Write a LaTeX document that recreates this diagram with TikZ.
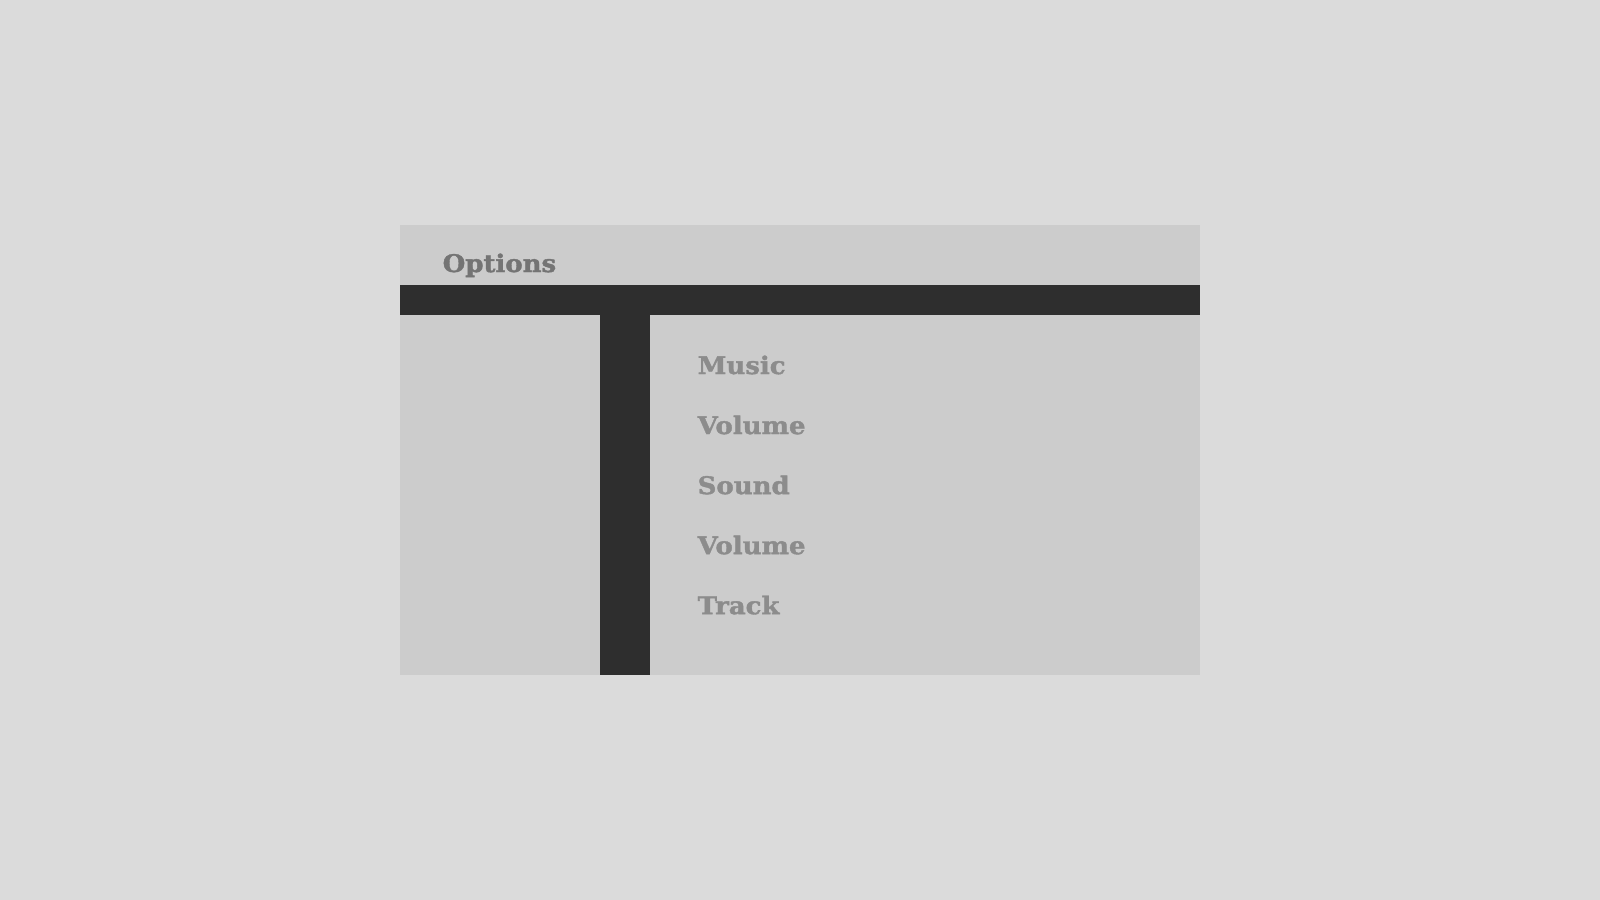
\documentclass[tikz,border=0pt]{standalone}
\usepackage{fontspec}
\setmainfont{DejaVu Serif}[BoldFeatures={FakeBold=1.6,FakeStretch=1.07}]
\usetikzlibrary{positioning}
\definecolor{bggray}{HTML}{DBDBDB}
\definecolor{panelgray}{HTML}{CCCCCC}
\definecolor{bargray}{HTML}{2E2E2E}
\definecolor{titlegray}{HTML}{747474}
\definecolor{itemgray}{HTML}{8C8C8C}
\begin{document}
\begin{tikzpicture}[x=0.01cm,y=-0.01cm,node distance=0.6cm,
	title/.style={anchor=base west,inner sep=0pt,font=\bfseries\fontsize{6.9}{8}\selectfont,text=titlegray},
	item/.style={title,text=itemgray}]
		% background and window
		\fill[bggray] (0,0) rectangle (1600,900);
		\fill[panelgray] (400,225) rectangle (1200,675);
		\fill[bargray] (400,285) rectangle (1200,315);
		\fill[bargray] (600,315) rectangle (650,675);

		\node[title]	(options)	at (442,272)		{Options};
		\node[item]		(music)		at (697,374)		{Music};
		\node[item]		(volA)	[below=of music.base west, anchor=base west]	{Volume};
		\node[item]		(sound)	[below=of volA.base west, anchor=base west]		{Sound};
		\node[item]		(volB)	[below=of sound.base west, anchor=base west]	{Volume};
		\node[item]		(track)	[below=of volB.base west, anchor=base west]		{Track};
\end{tikzpicture}
\end{document}
